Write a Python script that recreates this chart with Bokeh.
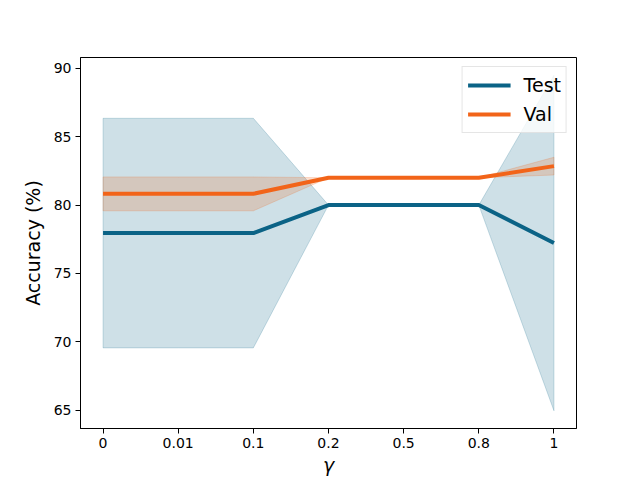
from bokeh.plotting import figure
from bokeh.models import Range1d, FixedTicker, Legend, LegendItem
from bokeh.embed import file_html
from bokeh.resources import INLINE

gammas = ["0", "0.01", "0.1", "0.2", "0.5", "0.8", "1"]
test_mean = [77.95, 77.95, 77.95, 80.0, 80.0, 80.0, 77.22]
test_lo = [69.55, 69.55, 69.55, 80.0, 80.0, 80.0, 64.95]
test_hi = [86.35, 86.35, 86.35, 80.0, 80.0, 80.0, 89.5]
val_mean = [80.83, 80.83, 80.83, 82.0, 82.0, 82.0, 82.85]
val_lo = [79.58, 79.58, 79.58, 82.0, 82.0, 82.0, 82.2]
val_hi = [82.06, 82.06, 82.06, 82.0, 82.0, 82.0, 83.5]
y_ticks = [65, 70, 75, 80, 85, 90]

BLUE = "#0b6386"
ORANGE = "#f26419"
FONT = "DejaVu Sans"

xs = list(range(len(gammas)))

p = figure(width=640, height=480, output_backend="svg", toolbar_location=None,
           x_range=Range1d(-0.3, len(gammas) - 1 + 0.3), y_range=Range1d(63.65, 90.8),
           min_border_left=80, min_border_right=64, min_border_top=57, min_border_bottom=52)
p.background_fill_color = "white"
p.border_fill_color = "white"
p.outline_line_color = "black"
p.outline_line_width = 1
p.xgrid.visible = False
p.ygrid.visible = False

# bands
p.patch(xs + xs[::-1], test_hi + test_lo[::-1], fill_color=BLUE, fill_alpha=0.2,
        line_color=BLUE, line_alpha=0.2, line_width=1)
p.patch(xs + xs[::-1], val_hi + val_lo[::-1], fill_color=ORANGE, fill_alpha=0.2,
        line_color=ORANGE, line_alpha=0.2, line_width=1)

r_test = p.line(xs, test_mean, line_color=BLUE, line_width=4)
r_val = p.line(xs, val_mean, line_color=ORANGE, line_width=4)

legend = Legend(items=[LegendItem(label="Test", renderers=[r_test]),
                       LegendItem(label="Val", renderers=[r_val])],
                location="top_right")
legend.label_text_font = FONT
legend.label_text_font_size = "19px"
legend.label_text_color = "black"
legend.glyph_width = 43
legend.glyph_height = 26
legend.label_height = 26
legend.label_standoff = 13
legend.spacing = 3
legend.padding = 5
legend.margin = 9
legend.border_line_color = "#cccccc"
legend.border_line_width = 1
legend.background_fill_alpha = 0.8
p.add_layout(legend)

p.xaxis.ticker = FixedTicker(ticks=xs)
p.xaxis.major_label_overrides = {i: g for i, g in zip(xs, gammas)}
p.yaxis.ticker = FixedTicker(ticks=y_ticks)

for ax in (p.xaxis, p.yaxis):
    ax.axis_line_color = "black"
    ax.axis_line_width = 1
    ax.major_tick_line_color = "black"
    ax.major_tick_out = 5
    ax.major_tick_in = 0
    ax.minor_tick_line_color = None
    ax.major_label_text_font = FONT
    ax.major_label_text_font_size = "14px"
    ax.major_label_text_color = "black"
    ax.major_label_standoff = 4
    ax.axis_label_text_font = FONT
    ax.axis_label_text_font_size = "19px"
    ax.axis_label_text_font_style = "normal"
    ax.axis_label_text_color = "black"

p.xaxis.axis_label = "γ"
p.xaxis.axis_label_text_font_style = "italic"
p.xaxis.axis_label_standoff = 3
p.yaxis.axis_label = "Accuracy (%)"
p.yaxis.axis_label_standoff = 7

open("out.html", "w").write(file_html(p, INLINE))
